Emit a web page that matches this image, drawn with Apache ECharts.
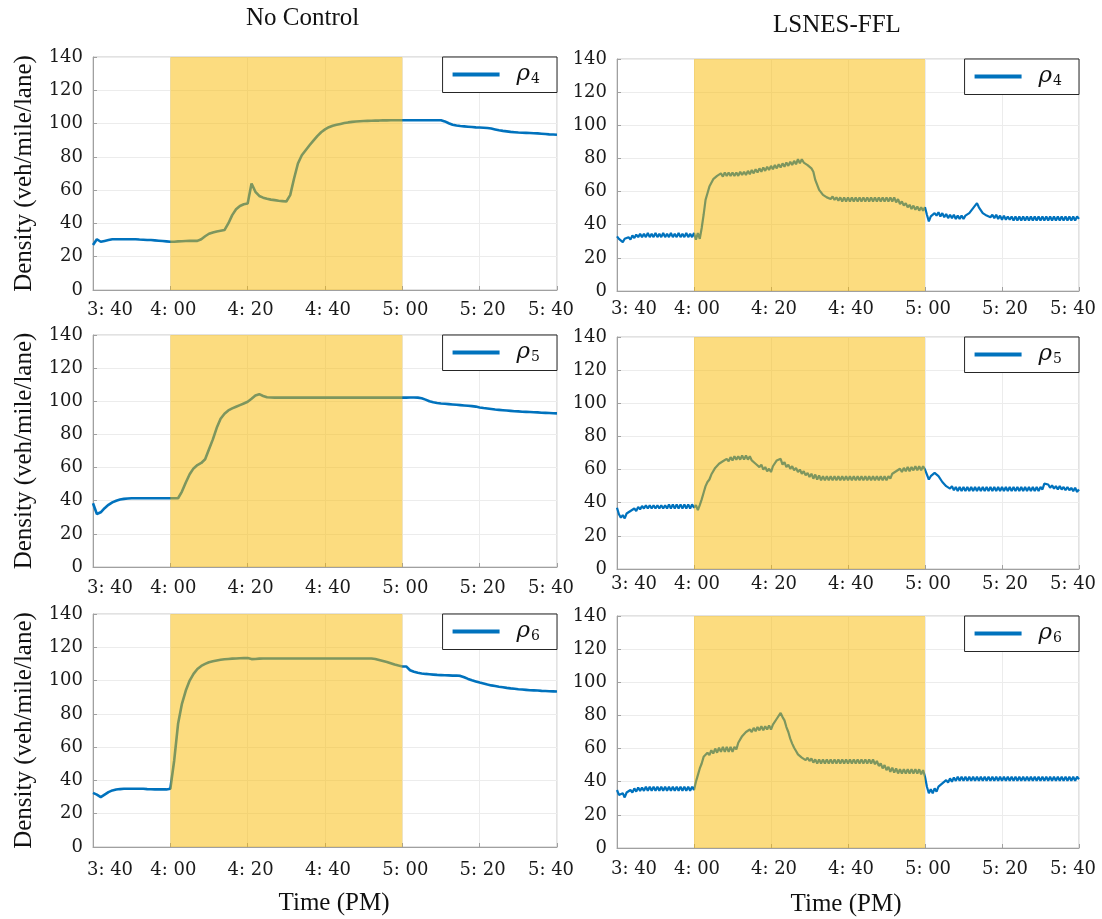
<!DOCTYPE html>
<html><head><meta charset="utf-8">
<script src="https://cdn.jsdelivr.net/npm/echarts@6/dist/echarts.min.js"></script>
<style>html,body{margin:0;padding:0;background:#fff}#c{width:1102px;height:919px}</style>
</head><body><div id="c"></div>
<script>
// ---------------- data ----------------
const xTickLabels = ['3: 40','4: 00','4: 20','4: 40','5: 00','5: 20','5: 40']; // minutes 0..120 after 3:40
const panelTitles = ['No Control', 'LSNES-FFL'];
const rhoIndex = ['4', '5', '6'];
const controlStart = 20, controlEnd = 80;   // 4:00 .. 5:00 (minutes after 3:40)
const noControlStep = 1;    // minutes between samples
const lsnesStep = 0.5;      // minutes between samples

const noControlRho4 = [
 27, 30.5, 29, 29.5, 30, 30.5, 30.5, 30.5, 30.5, 30.5,
 30.5, 30.5, 30.3, 30.2, 30, 30, 29.8, 29.6, 29.4, 29.2,
 29, 29, 29.2, 29.3, 29.4, 29.5, 29.5, 29.5, 30.5, 32.3,
 33.8, 34.6, 35.2, 35.6, 36, 40, 45, 48.5, 50.5, 51.5,
 52, 64, 59, 56.5, 55.5, 54.8, 54.3, 54, 53.6, 53.4,
 53.2, 57, 67, 76, 81, 84, 87, 89.8, 92.5, 94.8,
 96.5, 97.8, 98.7, 99.3, 99.8, 100.3, 100.7, 101, 101.2, 101.4,
 101.5, 101.6, 101.7, 101.8, 101.8, 101.9, 101.9, 102, 102, 102,
 102, 102, 102, 102, 102, 102, 102, 102, 102, 102,
 102, 101.3, 100.2, 99.3, 98.8, 98.5, 98.3, 98.1, 97.9, 97.7,
 97.6, 97.5, 97.3, 97, 96.5, 96, 95.6, 95.3, 95, 94.8,
 94.6, 94.5, 94.4, 94.3, 94.2, 94.1, 93.9, 93.7, 93.5, 93.4, 93.3
];
const noControlRho5 = [
 38.5, 32, 33, 35.5, 37.5, 39, 40, 40.7, 41.1, 41.3,
 41.5, 41.5, 41.5, 41.5, 41.5, 41.5, 41.5, 41.5, 41.5, 41.5,
 41.5, 41.5, 41.5, 45.5, 51, 56, 59.5, 61.5, 62.8, 65,
 71, 77, 84, 89.5, 92.5, 94.5, 95.7, 96.7, 97.7, 98.7,
 99.7, 101.5, 103.5, 104.3, 103.2, 102.4, 102.3, 102.2, 102.2, 102.2,
 102.2, 102.2, 102.2, 102.2, 102.2, 102.2, 102.2, 102.2, 102.2, 102.2,
 102.2, 102.2, 102.2, 102.2, 102.2, 102.2, 102.2, 102.2, 102.2, 102.2,
 102.2, 102.2, 102.2, 102.2, 102.2, 102.2, 102.2, 102.2, 102.2, 102.2,
 102.2, 102.2, 102.3, 102.3, 102.2, 101.8, 101, 100, 99.4, 99,
 98.7, 98.5, 98.3, 98.1, 97.9, 97.7, 97.5, 97.3, 97.1, 96.8,
 96.3, 95.9, 95.6, 95.3, 95, 94.8, 94.6, 94.4, 94.2, 94,
 93.9, 93.7, 93.6, 93.5, 93.4, 93.3, 93.1, 93, 92.9, 92.8, 92.7
];
const noControlRho6 = [
 32.5, 31.5, 30, 31.5, 33, 34, 34.5, 34.8, 35, 35,
 35, 35, 35, 35, 34.8, 34.7, 34.6, 34.6, 34.6, 34.6,
 35, 52, 74, 86, 94, 100, 104, 107, 108.8, 110,
 111, 111.6, 112.1, 112.5, 112.8, 113, 113.2, 113.3, 113.4, 113.5,
 113.5, 112.9, 113, 113.2, 113.3, 113.3, 113.3, 113.3, 113.3, 113.3,
 113.3, 113.3, 113.3, 113.3, 113.3, 113.3, 113.3, 113.3, 113.3, 113.3,
 113.3, 113.3, 113.3, 113.3, 113.3, 113.3, 113.3, 113.3, 113.3, 113.3,
 113.3, 113.3, 113.3, 113, 112.4, 111.8, 111.2, 110.4, 109.6, 109,
 108.5, 108.5, 106.2, 105.3, 104.7, 104.3, 104, 103.8, 103.6, 103.4,
 103.3, 103.2, 103.1, 103, 103, 102.8, 102, 101, 100.2, 99.5,
 98.8, 98.2, 97.6, 97.1, 96.7, 96.3, 96, 95.6, 95.3, 95.1,
 94.8, 94.6, 94.4, 94.2, 94.1, 94, 93.8, 93.7, 93.6, 93.5, 93.4
];

const lsnesRho4 = [
 33, 31.5, 31, 29.5, 31.5, 30.5, 32.5, 31, 33.5, 32, 34, 32.5, 34.5, 32.5, 34.5, 32.5, 35, 32.5, 34.5, 32.5,
 35, 32.5, 34.5, 32.5, 35, 32.5, 34.5, 32.5, 35, 32.5, 34.5, 32.5, 35, 32.5, 34.5, 32.5, 35, 32.5, 34.5, 32.5,
 35, 31, 35, 31.5, 38, 46, 55, 59, 63, 64, 67.5, 67, 69.5, 68.5, 71, 69, 71.5, 69.5, 71.5, 69.5,
 71.5, 69.5, 71.5, 69.5, 72, 70, 72, 70, 72.5, 70.5, 73, 71, 73.5, 71.5, 74, 72, 74.5, 72.5, 75, 73,
 75.5, 73.5, 76, 74, 76.5, 74.5, 77, 75, 77.5, 75.5, 78, 76, 78.5, 76.5, 79.5, 77, 79.5, 77.5, 78.5, 76,
 77, 74, 72, 67, 64, 61, 61, 58, 59, 56.5, 57.5, 55.5, 57, 55, 56.5, 54.5, 56.5, 54, 56.5, 54,
 56.5, 54, 56.5, 54, 56.5, 54, 56.5, 54, 56.5, 54, 56.5, 54, 56.5, 54, 56.5, 54, 56.5, 54, 56.5, 54,
 56.5, 54, 56.5, 54, 56.5, 53.5, 55.5, 52.5, 54, 51.5, 53, 50.5, 52, 49.5, 51.5, 49, 51, 48.5, 50.5, 48.5,
 50.5, 46, 42, 45, 44.5, 47, 45.5, 47.5, 45, 47, 44.5, 46.5, 44, 46, 44, 46, 43.5, 45.5, 43.5, 45.5,
 43.5, 45.5, 45, 47, 47.5, 50, 50, 53, 50.5, 49.5, 47, 47.5, 45.5, 46.5, 44.5, 46, 44, 46, 43.5, 45.5,
 43, 45.5, 43, 45, 43, 45, 42.5, 45, 42.5, 45, 42.5, 45, 42.5, 45, 42.5, 45, 42.5, 45, 42.5, 45,
 42.5, 45, 42.5, 45, 42.5, 45, 42.5, 45, 42.5, 45, 42.5, 45, 42.5, 45, 42.5, 45, 42.5, 45, 42.5, 45,
 43.5
];
const lsnesRho5 = [
 37, 33, 31, 32.5, 30.5, 33.5, 32.5, 35, 34, 36.5, 35, 37.5, 36, 38, 36.5, 38.5, 36.5, 38.5, 36.5, 38.5,
 36.5, 38.5, 36.5, 38.5, 36.5, 38.5, 36.5, 39, 36.5, 39, 36.5, 39, 36.5, 39, 36.5, 39, 36.5, 39, 36.5, 39,
 37, 38.5, 35.5, 38.5, 42, 46, 50, 52.5, 54, 57, 58, 61, 61, 63.5, 62.5, 65, 64, 66.5, 65, 67.5,
 65.5, 68, 66, 68, 66, 68.5, 66, 68.5, 66, 68, 65.5, 66.5, 63.5, 64.5, 61.5, 63, 60, 61.5, 59, 60.5,
 58.5, 62, 62.5, 65.5, 64.5, 66.5, 63, 64.5, 61.5, 63, 60.5, 62, 59.5, 61, 58.5, 60, 57.5, 59, 56.5, 58,
 55.5, 57.5, 54.5, 57, 54, 56.5, 53.5, 56, 53.5, 56, 53.5, 56, 53.5, 56, 53.5, 56, 53.5, 56, 53.5, 56,
 53.5, 56, 53.5, 56, 53.5, 56, 53.5, 56, 53.5, 56, 53.5, 56, 53.5, 56, 53.5, 56, 53.5, 56, 53.5, 56,
 53.5, 56, 54.5, 57.5, 56.5, 59, 58, 60.5, 58.5, 61, 59, 61.5, 59, 61.5, 59.5, 62, 59.5, 62, 59.5, 62,
 60, 61, 54, 56, 55.5, 58, 59, 56, 55, 52.5, 52, 50, 50.5, 48.5, 50, 47.5, 49.5, 47, 49.5, 47,
 49.5, 47, 49.5, 47, 49.5, 47, 49.5, 47, 49.5, 47, 49.5, 47, 49.5, 47, 49.5, 47, 49.5, 47, 49.5, 47,
 49.5, 47, 49.5, 47, 49.5, 47, 49.5, 47, 49.5, 47, 49.5, 47, 49.5, 47, 49.5, 47, 49.5, 47, 49.5, 47,
 49.5, 48, 51.5, 50.5, 51, 49, 50.5, 48.5, 50, 48, 50, 48, 49.5, 47.5, 49.5, 47.5, 49, 47, 49, 46.5,
 48
];
const lsnesRho6 = [
 35, 32, 31, 33, 30.5, 33.5, 32.5, 35, 33.5, 36, 34, 36.5, 34.5, 36.5, 34.5, 37, 34.5, 37, 34.5, 37,
 34.5, 37, 34.5, 37, 34.5, 37, 34.5, 37, 34.5, 37, 34.5, 37, 34.5, 37, 34.5, 37, 34.5, 37, 34.5, 37,
 35, 40, 44, 48, 51, 55, 54.5, 57.5, 56, 59, 57, 60, 57.5, 60.5, 58, 61, 58, 61, 58, 61,
 58, 61, 59.5, 63.5, 64, 67.5, 67, 70, 69, 71.5, 70, 72.5, 70.5, 73, 71, 73.5, 71, 73.5, 71.5, 74,
 71.5, 74.5, 75, 78, 79, 81.5, 79, 77, 73, 70, 66, 63, 60.5, 58.5, 56.5, 57, 54.5, 55.5, 53, 54.5,
 52.5, 54, 51.5, 53.5, 51, 53.5, 51, 53.5, 51, 53.5, 51, 53.5, 51, 53.5, 51, 53.5, 51, 53.5, 51, 53.5,
 51, 53.5, 51, 53.5, 51, 53.5, 51, 53.5, 51, 53.5, 51, 53.5, 51, 53.5, 50.5, 52.5, 49.5, 51, 48, 50,
 47, 49, 46, 48.5, 45.5, 48, 45, 47.5, 45, 47.5, 45, 47.5, 45, 47.5, 45, 47.5, 45, 47.5, 44.5, 47,
 43, 37, 33, 35.5, 33, 36, 34, 37, 36, 39, 38, 41, 39.5, 42, 40, 42.5, 40.5, 43, 40.5, 43,
 40.5, 43, 40.5, 43, 40.5, 43, 40.5, 43, 40.5, 43, 40.5, 43, 40.5, 43, 40.5, 43, 40.5, 43, 40.5, 43,
 40.5, 43, 40.5, 43, 40.5, 43, 40.5, 43, 40.5, 43, 40.5, 43, 40.5, 43, 40.5, 43, 40.5, 43, 40.5, 43,
 40.5, 43, 40.5, 43, 40.5, 43, 40.5, 43, 40.5, 43, 40.5, 43, 40.5, 43, 40.5, 43, 40.5, 43, 40.5, 43,
 41.5
];

// ---------------- chart ----------------
const panels = [
  {vals: noControlRho4, step: noControlStep, rho: 0, col: 0, row: 0},
  {vals: lsnesRho4,     step: lsnesStep,     rho: 0, col: 1, row: 0},
  {vals: noControlRho5, step: noControlStep, rho: 1, col: 0, row: 1},
  {vals: lsnesRho5,     step: lsnesStep,     rho: 1, col: 1, row: 1},
  {vals: noControlRho6, step: noControlStep, rho: 2, col: 0, row: 2},
  {vals: lsnesRho6,     step: lsnesStep,     rho: 2, col: 1, row: 2}
];
const gridBoxes = [
  {left: 93, top: 57, width: 464, height: 233},
  {left: 617, top: 59, width: 462, height: 232},
  {left: 93, top: 335, width: 464, height: 232},
  {left: 617, top: 337, width: 462, height: 232},
  {left: 93, top: 614, width: 464, height: 233},
  {left: 617, top: 616, width: 462, height: 232}
];
const xLabelMargins = [11, 9, 12, 6, 14, 12];
const W = 1102;
const BLUE = '#0072BD';
const TICK_FONT = 'DejaVu Serif';
const TICK_SIZE = 18;
const TICK_COLOR = '#1a1a1a';
const SERIF = 'Liberation Serif';
const toPoints = (vals, step) => vals.map((v, i) => [i * step, v]);
const seriesName = p => (p.col === 0 ? 'NC' : 'LS') + rhoIndex[p.rho];

const chart = echarts.init(document.getElementById('c'), null, {renderer: 'canvas'});
const option = {
  animation: false,
  backgroundColor: '#fff',
  title: [
    {text: panelTitles[0], left: 246, top: 6, padding: 0,
     textStyle: {fontFamily: SERIF, fontSize: 25, fontWeight: 'normal', color: '#111'}},
    {text: panelTitles[1], left: 773, top: 13, padding: 0,
     textStyle: {fontFamily: SERIF, fontSize: 25, fontWeight: 'normal', color: '#111'}}
  ],
  grid: gridBoxes.map(g => Object.assign({show: true, borderColor: '#c4c4c4', borderWidth: 1, backgroundColor: '#fff'}, g)),
  xAxis: panels.map((p, i) => ({
    type: 'value', gridIndex: i, min: 0, max: 120, interval: 20,
    axisLine: {show: true, onZero: false, lineStyle: {color: '#a0a0a0'}},
    axisTick: {show: true, inside: true, length: 4, lineStyle: {color: '#a0a0a0'}},
    splitLine: {show: true, lineStyle: {color: '#ececec', width: 1}},
    axisLabel: {
      margin: xLabelMargins[i], color: TICK_COLOR, fontFamily: TICK_FONT, fontSize: TICK_SIZE,
      formatter: v => {
        const k = Math.round(v / 20);
        const s = xTickLabels[k];
        return k === 0 ? '{f|' + s + '}' : (k === 6 ? '{l|' + s + '}' : '{m|' + s + '}');
      },
      rich: {
        f: {fontFamily: TICK_FONT, fontSize: TICK_SIZE, color: TICK_COLOR, padding: [0, 0, 0, 34]},
        l: {fontFamily: TICK_FONT, fontSize: TICK_SIZE, color: TICK_COLOR, padding: [0, 12, 0, 0]},
        m: {fontFamily: TICK_FONT, fontSize: TICK_SIZE, color: TICK_COLOR, padding: [0, 0, 0, 6]}
      }
    },
    name: p.row === 2 ? 'Time (PM)' : '',
    nameLocation: 'middle', nameGap: 44,
    nameTextStyle: {fontFamily: SERIF, fontSize: 25, color: '#111',
      padding: p.col === 0 ? [0, 0, 0, 18] : [0, 4, 0, 0]}
  })),
  yAxis: panels.map((p, i) => ({
    type: 'value', gridIndex: i, min: 0, max: 140, interval: 20,
    axisLine: {show: true, lineStyle: {color: '#a0a0a0'}},
    axisTick: {show: true, inside: true, length: 4, lineStyle: {color: '#a0a0a0'}},
    splitLine: {show: true, lineStyle: {color: '#ececec', width: 1}},
    axisLabel: {margin: 10, color: TICK_COLOR, fontFamily: TICK_FONT, fontSize: TICK_SIZE},
    name: p.col === 0 ? 'Density (veh/mile/lane)' : '',
    nameLocation: 'middle', nameGap: 56,
    nameTextStyle: {fontFamily: SERIF, fontSize: 25, color: '#111'}
  })),
  legend: panels.map((p, i) => ({
    data: [seriesName(p)],
    right: W - (gridBoxes[i].left + gridBoxes[i].width),
    top: gridBoxes[i].top,
    icon: 'rect', itemWidth: 47, itemHeight: 4, itemGap: 0,
    padding: [6, 17, 6, 10],
    borderColor: '#262626', borderWidth: 1, backgroundColor: '#fff',
    selectedMode: false,
    formatter: () => '{r|ρ}{s|' + rhoIndex[p.rho] + '}',
    textStyle: {
      rich: {
        r: {fontFamily: TICK_FONT, fontStyle: 'italic', fontSize: 23, lineHeight: 24, color: '#111', padding: [0, 0, 0, 12]},
        s: {fontFamily: TICK_FONT, fontSize: 14, lineHeight: 24, color: '#111', verticalAlign: 'bottom', padding: [6, 0, 0, 1]}
      }
    }
  })),
  series: panels.map((p, i) => ({
    type: 'line', name: seriesName(p), xAxisIndex: i, yAxisIndex: i,
    data: toPoints(p.vals, p.step),
    showSymbol: false, symbol: 'none', z: 2,
    lineStyle: {color: BLUE, width: p.col === 0 ? 2.6 : 2.2},
    itemStyle: {color: BLUE},
    markArea: {
      silent: true, z: 10,
      itemStyle: {color: 'rgba(250,185,0,0.5)'},
      data: [[{xAxis: controlStart}, {xAxis: controlEnd}]]
    }
  }))
};
chart.setOption(option);
</script>
</body></html>
